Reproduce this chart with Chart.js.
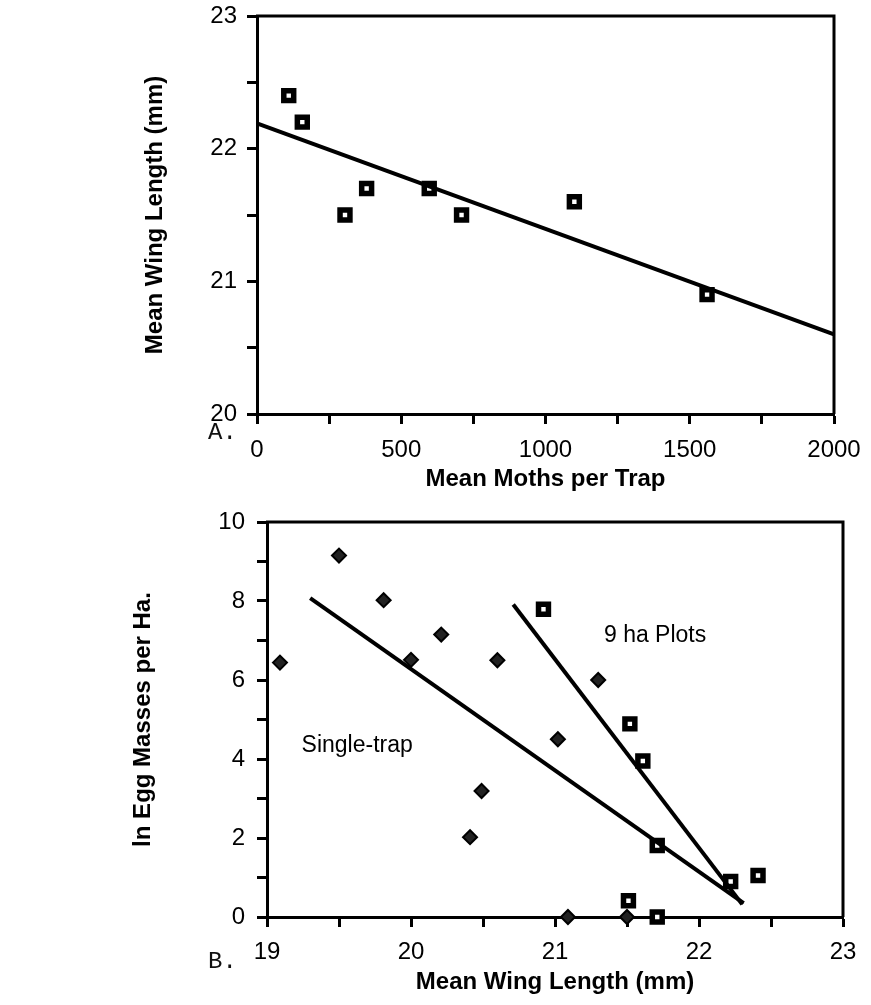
<!DOCTYPE html>
<html lang="en">
<head>
    <meta charset="UTF-8">
    <title>Wing length charts</title>
    <style>
        body {
            margin: 0;
            background-color: white;
            font-family: "Liberation Sans", Arial, sans-serif;
        }
        .page {
            position: relative;
            width: 871px;
            height: 1005px;
            overflow: hidden;
        }
        .panel {
            position: absolute;
            left: 0;
        }
        .tag {
            position: absolute;
            left: 208px;
            font-family: "Liberation Mono", "Courier New", monospace;
            font-size: 24px;
            line-height: 24px;
            color: #111;
        }
    </style>
    <script src="https://cdn.jsdelivr.net/npm/chart.js"></script>
</head>
<body>
<div class="page">
    <div class="panel" style="top:0"><canvas id="chartA" width="871" height="500"></canvas></div>
    <div class="panel" style="top:500px"><canvas id="chartB" width="871" height="505"></canvas></div>
    <div class="tag" style="top:421px">A.</div>
    <div class="tag" style="top:950px">B.</div>
</div>

<script>
    // panel A: wing length vs moths per trap
    const mothsPerTrap = [110, 157, 305, 380, 597, 709, 1100, 1560];
    const wingLengthA = [22.4, 22.2, 21.5, 21.7, 21.7, 21.5, 21.6, 20.9];
    const fitAX = [0, 2000];
    const fitAY = [22.19, 20.6];
    const xLabelsA = [0, 500, 1000, 1500, 2000];
    const yLabelsA = [20, 21, 22, 23];

    // panel B: ln egg masses vs wing length
    const singleWing = [19.09, 19.5, 19.81, 20.21, 20.0, 20.6, 21.3, 21.02, 20.49, 20.41, 21.09, 21.5];
    const singleEgg = [6.44, 9.15, 8.02, 7.15, 6.51, 6.5, 6.0, 4.5, 3.19, 2.02, 0, 0];
    const plotsWing = [20.92, 21.52, 21.61, 21.71, 22.22, 22.41, 21.51, 21.71];
    const plotsEgg = [7.79, 4.89, 3.95, 1.81, 0.9, 1.05, 0.41, 0];
    const singleFitX = [19.3, 22.31];
    const singleFitY = [8.07, 0.35];
    const plotsFitX = [20.71, 22.3];
    const plotsFitY = [7.91, 0.32];
    const xLabelsB = [19, 20, 21, 22, 23];
    const yLabelsB = [0, 2, 4, 6, 8, 10];

    const tickFont = { family: "'Liberation Sans', Arial, sans-serif", size: 24 };
    const titleFont = { family: "'Liberation Sans', Arial, sans-serif", size: 24, weight: 'bold' };

    function toPoints(xs, ys) {
        return xs.map((x, i) => ({ x: x, y: ys[i] }));
    }

    // top and right edges of the frame
    const frameBox = {
        id: 'frameBox',
        beforeDatasetsDraw(chart) {
            const a = chart.chartArea;
            const ctx = chart.ctx;
            ctx.save();
            ctx.strokeStyle = '#000';
            ctx.lineWidth = 3;
            ctx.beginPath();
            ctx.moveTo(a.left - 1, a.top);
            ctx.lineTo(a.right, a.top);
            ctx.lineTo(a.right, a.bottom);
            ctx.stroke();
            ctx.restore();
        }
    };

    // text labels inside panel B
    const notes = {
        id: 'notes',
        afterDatasetsDraw(chart, args, opts) {
            if (!opts.items) return;
            const ctx = chart.ctx;
            ctx.save();
            ctx.fillStyle = '#000';
            ctx.font = "23px 'Liberation Sans', Arial, sans-serif";
            ctx.textAlign = 'left';
            ctx.textBaseline = 'middle';
            opts.items.forEach(n => {
                ctx.fillText(n.text, chart.scales.x.getPixelForValue(n.x), chart.scales.y.getPixelForValue(n.y));
            });
            ctx.restore();
        }
    };

    // fixed box sizes so the plot area lands where the original has it
    function fixWidth(w) {
        return s => { s.width = w; s.paddingTop = 0; s.paddingBottom = 0; };
    }
    function fixHeight(h) {
        return s => { s.height = h; s.paddingLeft = 0; s.paddingRight = 0; };
    }

    function axis(min, max, step, labels, pad, title, titlePad, extra) {
        return Object.assign({
            type: 'linear',
            min: min,
            max: max,
            border: { display: true, color: '#000', width: 3 },
            grid: { drawOnChartArea: false, tickLength: 10, tickWidth: 3, tickColor: '#000' },
            ticks: {
                stepSize: step,
                padding: pad,
                color: '#000',
                font: tickFont,
                callback: v => labels.includes(v) ? String(v) : ''
            },
            title: { display: true, text: title, color: '#000', font: titleFont, padding: titlePad }
        }, extra);
    }

    function squareSet(data) {
        return {
            data: data,
            pointStyle: 'rect',
            pointRadius: 7,
            pointBorderWidth: 5.5,
            pointBackgroundColor: '#fff',
            pointBorderColor: '#000',
            showLine: false,
            clip: false
        };
    }

    function fitSet(data) {
        return {
            data: data,
            showLine: true,
            borderColor: '#000',
            borderWidth: 4,
            pointRadius: 0,
            fill: false,
            clip: false
        };
    }

    function createChartA() {
        const ctx = document.getElementById('chartA').getContext('2d');
        new Chart(ctx, {
            type: 'scatter',
            data: {
                datasets: [
                    fitSet(toPoints(fitAX, fitAY)),
                    squareSet(toPoints(mothsPerTrap, wingLengthA))
                ]
            },
            options: {
                responsive: false,
                animation: false,
                devicePixelRatio: 1,
                events: [],
                layout: { padding: { top: 16, right: 37, left: 0, bottom: 0 } },
                plugins: { legend: { display: false }, tooltip: { enabled: false } },
                scales: {
                    x: axis(0, 2000, 250, xLabelsA, 12, 'Mean Moths per Trap', { top: 0, bottom: 6 }, {
                        position: 'bottom',
                        afterFit: fixHeight(86)
                    }),
                    y: axis(20, 23, 0.5, yLabelsA, 10, 'Mean Wing Length (mm)', { top: 141, bottom: 0 }, {
                        position: 'left',
                        afterFit: fixWidth(257)
                    })
                }
            },
            plugins: [frameBox]
        });
    }

    function createChartB() {
        const ctx = document.getElementById('chartB').getContext('2d');
        new Chart(ctx, {
            type: 'scatter',
            data: {
                datasets: [
                    fitSet(toPoints(singleFitX, singleFitY)),
                    fitSet(toPoints(plotsFitX, plotsFitY)),
                    {
                        data: toPoints(singleWing, singleEgg),
                        pointStyle: 'rectRot',
                        pointRadius: 7,
                        pointBorderWidth: 2,
                        pointBackgroundColor: '#222',
                        pointBorderColor: '#000',
                        showLine: false,
                        clip: false
                    },
                    squareSet(toPoints(plotsWing, plotsEgg))
                ]
            },
            options: {
                responsive: false,
                animation: false,
                devicePixelRatio: 1,
                events: [],
                layout: { padding: { top: 22, right: 28, left: 0, bottom: 0 } },
                plugins: {
                    legend: { display: false },
                    tooltip: { enabled: false },
                    notes: {
                        items: [
                            { text: 'Single-trap', x: 19.24, y: 4.33 },
                            { text: '9 ha Plots', x: 21.34, y: 7.12 }
                        ]
                    }
                },
                scales: {
                    x: axis(19, 23, 0.5, xLabelsB, 11, 'Mean Wing Length (mm)', { top: 0, bottom: 8 }, {
                        position: 'bottom',
                        afterFit: fixHeight(88)
                    }),
                    y: axis(0, 10, 1, yLabelsB, 12, 'ln Egg Masses per Ha.', { top: 129, bottom: 0 }, {
                        position: 'left',
                        afterFit: fixWidth(267)
                    })
                }
            },
            plugins: [frameBox, notes]
        });
    }

    window.onload = () => {
        createChartA();
        createChartB();
    };
</script>
</body>
</html>
